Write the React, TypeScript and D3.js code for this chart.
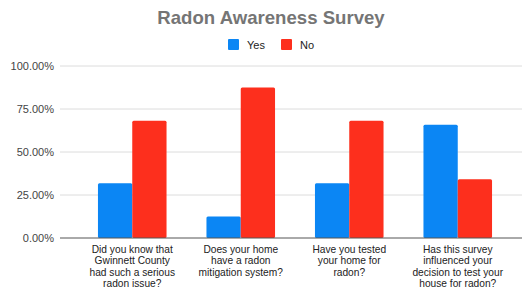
import React, { useEffect, useRef } from 'react';
import * as d3 from 'd3';

const width = 522;
const height = 289;

const questions = [
  ['Did you know that', 'Gwinnett County', 'had such a serious', 'radon issue?'],
  ['Does your home', 'have a radon', 'mitigation system?'],
  ['Have you tested', 'your home for', 'radon?'],
  ['Has this survey', 'influenced your', 'decision to test your', 'house for radon?'],
];
const seriesNames = ['Yes', 'No'];
const yesValues = [31.8, 12.5, 31.8, 65.9];
const noValues = [68.2, 87.5, 68.2, 34.1];
const yTicks = [0, 25, 50, 75, 100];
const colors = ['#0b86f4', '#fd2f1d'];

const font = '"Liberation Sans", Arial, sans-serif';

export default function App() {
  const ref = useRef<SVGSVGElement>(null);

  useEffect(() => {
    const svg = d3.select(ref.current);
    svg.selectAll('*').remove();

    const idx = questions.map((_, i) => i);

    const xScale = d3.scaleBand<number>()
      .domain(idx)
      .range([78, 512])
      .paddingInner(0.368)
      .paddingOuter(0.184);

    const subScale = d3.scaleBand<number>()
      .domain([0, 1])
      .range([0, xScale.bandwidth()]);

    const yScale = d3.scaleLinear()
      .domain([0, 100])
      .range([238, 66]);

    // title
    svg.append('text')
      .attr('x', 271)
      .attr('y', 24)
      .attr('text-anchor', 'middle')
      .style('font-family', font)
      .style('font-size', '18.6px')
      .style('font-weight', 'bold')
      .style('fill', '#757575')
      .text('Radon Awareness Survey');

    // legend
    const legendX = [228, 281];
    const legend = svg.append('g');
    seriesNames.forEach((name, i) => {
      legend.append('rect')
        .attr('x', legendX[i])
        .attr('y', 39)
        .attr('width', 11)
        .attr('height', 11)
        .attr('rx', 1)
        .style('fill', colors[i]);
      legend.append('text')
        .attr('x', legendX[i] + 19)
        .attr('y', 48.5)
        .style('font-family', font)
        .style('font-size', '11px')
        .style('fill', '#222')
        .text(name);
    });

    // gridlines + y labels
    const yAxisG = svg.append('g');
    yTicks.forEach(t => {
      if (t !== 0) {
        yAxisG.append('line')
          .attr('x1', 60)
          .attr('x2', width)
          .attr('y1', yScale(t))
          .attr('y2', yScale(t))
          .style('stroke', '#dcdcdc')
          .style('stroke-width', 1);
      }
      yAxisG.append('text')
        .attr('x', 54)
        .attr('y', yScale(t) + 4)
        .attr('text-anchor', 'end')
        .style('font-family', font)
        .style('font-size', '11px')
        .style('fill', '#444')
        .text(d3.format('.2f')(t) + '%');
    });

    // bars
    const bars = svg.append('g');
    idx.forEach(i => {
      [yesValues[i], noValues[i]].forEach((v, s) => {
        bars.append('rect')
          .attr('x', xScale(i)! + subScale(s)!)
          .attr('y', yScale(v))
          .attr('width', subScale.bandwidth())
          .attr('height', yScale(0) - yScale(v))
          .attr('rx', 1.5)
          .style('fill', colors[s]);
      });
    });

    // baseline
    svg.append('line')
      .attr('x1', 60)
      .attr('x2', width)
      .attr('y1', yScale(0))
      .attr('y2', yScale(0))
      .style('stroke', '#555')
      .style('stroke-width', 1);

    // x labels
    const xLabels = svg.append('g');
    idx.forEach(i => {
      const txt = xLabels.append('text')
        .attr('text-anchor', 'middle')
        .style('font-family', font)
        .style('font-size', '10.2px')
        .style('fill', '#222');
      questions[i].forEach((line, j) => {
        txt.append('tspan')
          .attr('x', xScale(i)! + xScale.bandwidth() / 2)
          .attr('y', 252.8 + j * 11.4)
          .text(line);
      });
    });
  }, []);

  return (
    <svg
      ref={ref}
      width={width}
      height={height}
      style={{ position: 'absolute', left: 0, top: 0, background: '#fff' }}
    />
  );
}
